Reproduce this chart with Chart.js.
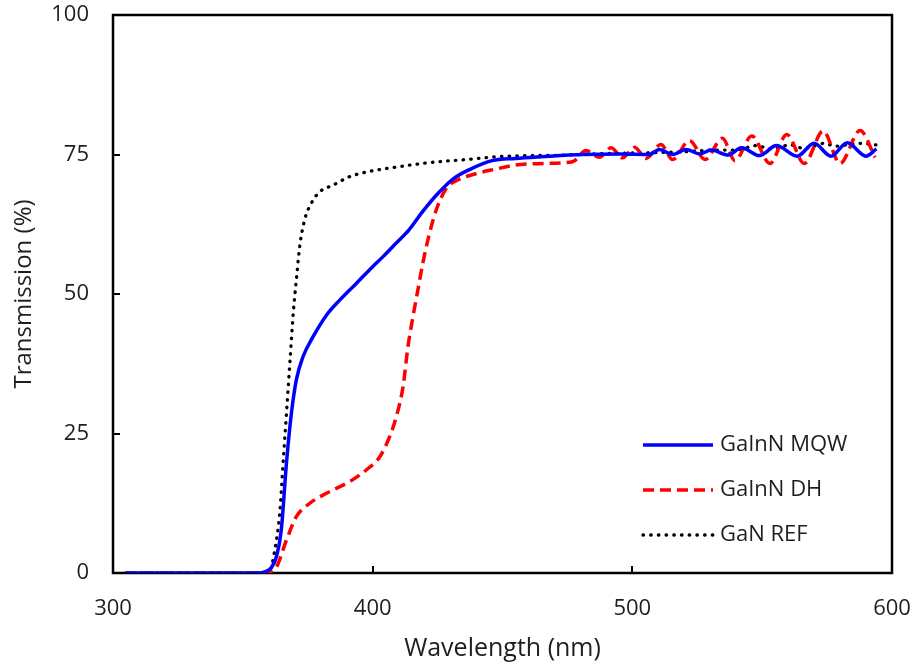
<!DOCTYPE html>
<html><head><meta charset="utf-8">
<script src="https://cdn.jsdelivr.net/npm/chart.js@4/dist/chart.umd.min.js"></script>
<style>html,body{margin:0;padding:0;background:#fff}#wrap{width:914px;height:666px;position:relative}</style>
</head><body><div id="wrap"><canvas id="c" width="914" height="666"></canvas></div>
<script>
// ---- data ----
const seriesNames = ['GaInN MQW', 'GaInN DH', 'GaN REF'];

const mqwWavelength = [305,320,340,355,359,361,363,364.8,366.8,368.7,370.6,373.2,377,382.2,387.3,393.7,400,404,409,414,419.3,424.5,430.9,437.3,446,455,465,481,495,506.5,510.4,515.5,520.7,526,530.3,537,542,549,555.5,563.5,570,576.5,582.8,590,594];
const mqwT = [0,0,0,0,0.3,1,3,7.7,19.7,28.6,34.6,38.8,42.3,46.2,48.9,51.9,54.9,56.7,59.1,61.5,64.8,67.7,70.6,72.3,73.9,74.3,74.6,75.0,75.1,75.0,75.9,75.0,75.9,75.1,75.8,74.9,76.2,74.8,76.6,74.7,77.0,74.7,77.1,74.7,76.0];

const dhWavelength = [305,320,340,358,361,363,366.8,370.6,375.8,382.2,391.2,397.6,402.7,406.5,409.1,411.7,413.6,415.5,417.4,419.3,421.9,424.5,428.3,432.2,440,447.6,455,466,477,482.2,487.3,491.8,496.3,500.8,505.3,511,515.5,522,528,534.7,539.5,546,553,559.5,566.2,573.5,580,587.7,593.5];
const dhT = [0,0,0,0,0.3,1.1,5.9,10.1,12.5,14.3,16.4,18.5,20.8,24.4,28,33.4,40.6,45.9,50.7,55.5,60.9,65.1,68.9,70.3,71.6,72.4,73.1,73.4,73.7,75.7,74.5,76.2,74.4,76.3,74.3,76.8,74.1,77.5,74.1,77.9,73.9,78.3,73.4,78.6,73.4,79.2,73.4,79.3,74.5];

const refWavelength = [305,320,340,355,358,360.4,362.3,364.2,365.5,366.8,368.1,369.4,370.6,371.9,373.8,376.4,379.6,384.7,391,398,410,423,436,448,460,475,490,505,520,532,540,548,553,561,566,574,578,588,594];
const refT = [0,0,0,0,0.2,0.5,4.1,10.7,19.7,28.6,37.6,46.5,52.5,58.5,63.3,66.3,68.3,69.5,71.0,71.9,72.8,73.6,74.1,74.6,74.8,74.9,75.2,75.3,75.5,75.8,75.8,76.6,76.0,76.7,76.1,77.0,76.5,77.0,76.7];

const xTicks = [300, 400, 500, 600];
const yTicks = [0, 25, 50, 75, 100];

const xTitle = 'Wavelength (nm)';
const yTitle = 'Transmission (%)';

// ---- chart ----
const FONT = '"Open Sans", "Noto Sans", sans-serif';
const TXT = '#1e1e1e';

function pts(xs, ys) { return xs.map((x, i) => ({x: x, y: ys[i]})); }
function noPad(s) { s.paddingTop = 0; s.paddingBottom = 0; s.paddingLeft = 0; s.paddingRight = 0; }

const frame = {
  id: 'frame',
  beforeDatasetsDraw(chart) {
    const {ctx, chartArea: a, scales} = chart;
    ctx.save();
    ctx.strokeStyle = '#000';
    ctx.lineWidth = 2.5;
    ctx.strokeRect(a.left, a.top, a.right - a.left, a.bottom - a.top);
    ctx.lineWidth = 2;
    const tl = 7;
    ctx.beginPath();
    xTicks.forEach(v => {
      const px = Math.round(scales.x.getPixelForValue(v));
      ctx.moveTo(px, a.bottom); ctx.lineTo(px, a.bottom - tl);
    });
    yTicks.forEach(v => {
      const py = Math.round(scales.y.getPixelForValue(v));
      ctx.moveTo(a.left, py); ctx.lineTo(a.left + tl, py);
    });
    ctx.stroke();
    ctx.restore();
  },
  afterDraw(chart) {
    const {ctx, chartArea: a} = chart;
    const x0 = a.right - 249, y0 = a.bottom - 128, gap = 45, len = 70;
    ctx.save();
    chart.data.datasets.forEach((ds, i) => {
      const y = y0 + i * gap;
      ctx.beginPath();
      ctx.strokeStyle = ds.borderColor;
      ctx.lineWidth = ds.borderWidth;
      ctx.setLineDash(ds.borderDash || []);
      ctx.lineCap = ds.borderCapStyle || 'butt';
      ctx.moveTo(x0, y); ctx.lineTo(x0 + len, y);
      ctx.stroke();
      ctx.setLineDash([]);
      ctx.fillStyle = TXT;
      ctx.font = '22px ' + FONT;
      ctx.textBaseline = 'middle';
      ctx.textAlign = 'left';
      ctx.fillText(ds.label, x0 + len + 7, y);
    });
    ctx.restore();
  }
};

new Chart(document.getElementById('c'), {
  type: 'line',
  data: {
    datasets: [
      { label: seriesNames[0], data: pts(mqwWavelength, mqwT), borderColor: '#0000ff', borderWidth: 3.5, pointRadius: 0, cubicInterpolationMode: 'monotone', fill: false },
      { label: seriesNames[1], data: pts(dhWavelength, dhT), borderColor: '#ff0000', borderWidth: 3.5, borderDash: [11, 6], pointRadius: 0, cubicInterpolationMode: 'monotone', fill: false },
      { label: seriesNames[2], data: pts(refWavelength, refT), borderColor: '#000000', borderWidth: 3.3, borderDash: [0.5, 7.2], borderCapStyle: 'round', pointRadius: 0, cubicInterpolationMode: 'monotone', fill: false }
    ]
  },
  options: {
    responsive: false,
    animation: false,
    devicePixelRatio: 1,
    layout: { padding: { top: 15, right: 22, left: 0, bottom: 0 } },
    plugins: { legend: { display: false }, tooltip: { enabled: false } },
    scales: {
      x: {
        type: 'linear', min: 300, max: 600,
        afterBuildTicks(s) { s.ticks = xTicks.map(v => ({value: v})); },
        afterFit(s) { s.height = 93; noPad(s); },
        grid: { display: false, drawTicks: false },
        border: { display: false },
        ticks: { padding: 23, color: TXT, font: { size: 22, family: FONT }, maxRotation: 0 },
        title: { display: true, text: xTitle, color: TXT, font: { size: 25, family: FONT }, padding: { top: 0, bottom: 2 } }
      },
      y: {
        type: 'linear', min: 0, max: 100,
        afterBuildTicks(s) { s.ticks = yTicks.map(v => ({value: v})); },
        afterFit(s) { s.width = 113; noPad(s); },
        grid: { display: false, drawTicks: false },
        border: { display: false },
        ticks: { padding: 24, color: TXT, font: { size: 22, family: FONT } },
        title: { display: true, text: yTitle, color: TXT, font: { size: 24, family: FONT }, padding: { top: 10, bottom: 0 } }
      }
    }
  },
  plugins: [frame]
});
</script></body></html>
